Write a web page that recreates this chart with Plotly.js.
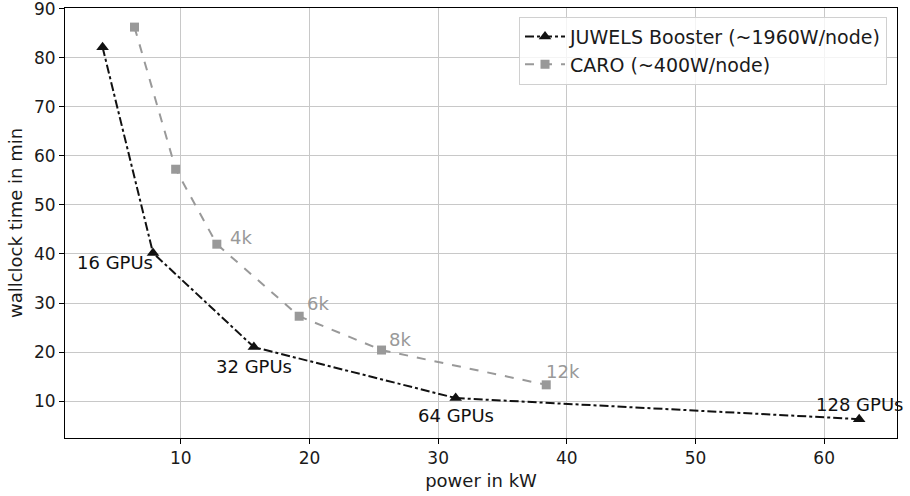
<!DOCTYPE html>
<html>
<head>
<meta charset="utf-8">
<script src="https://cdn.plot.ly/plotly-3.0.1.min.js"></script>
<style>html,body{margin:0;padding:0;background:#fff;}#chart{width:910px;height:496px;}</style>
</head>
<body>
<div id="chart"></div>
<script>
// JUWELS Booster (~1960W/node)
const juwelsPower = [3.92, 7.84, 15.68, 31.36, 62.72];
const juwelsTime = [82.2, 40.2, 21.0, 10.6, 6.3];
const juwelsLabels = ["", "16 GPUs", "32 GPUs", "64 GPUs", "128 GPUs"];
const juwelsShiftX = [0, -38, 0, 0, 0];
const juwelsShiftY = [0, -9, -19, -17, 15];

// CARO (~400W/node)
const caroPower = [6.4, 9.6, 12.8, 19.2, 25.6, 38.4];
const caroTime = [86.3, 57.3, 42.0, 27.3, 20.4, 13.3];
const caroLabels = ["", "", "4k", "6k", "8k", "12k"];
const caroShiftX = [0, 0, 24, 19, 18, 17];
const caroShiftY = [0, 0, 7, 13, 11, 13];

const xTicks = [10, 20, 30, 40, 50, 60];
const yTicks = [10, 20, 30, 40, 50, 60, 70, 80, 90];

const font = {family: "DejaVu Sans, sans-serif", size: 18, color: "#1a1a1a"};
const tickFont = {family: "DejaVu Sans, sans-serif", size: 17, color: "#1a1a1a"};

const traces = [
  {x: juwelsPower, y: juwelsTime, mode: "lines+markers", name: "JUWELS Booster (~1960W/node)",
   line: {color: "#111111", width: 2, dash: "dashdot"},
   marker: {symbol: "triangle-up", size: 11, color: "#111111"}},
  {x: caroPower, y: caroTime, mode: "lines+markers", name: "CARO (~400W/node)",
   line: {color: "#999999", width: 2, dash: "dash"},
   marker: {symbol: "square", size: 9, color: "#999999"}}
];

const annotations = [];
juwelsLabels.forEach((t, i) => { if (t) annotations.push({x: juwelsPower[i], y: juwelsTime[i], text: t, showarrow: false,
  xshift: juwelsShiftX[i], yshift: juwelsShiftY[i], font: {family: font.family, size: 18, color: "#111111"}}); });
caroLabels.forEach((t, i) => { if (t) annotations.push({x: caroPower[i], y: caroTime[i], text: t, showarrow: false,
  xshift: caroShiftX[i], yshift: caroShiftY[i], font: {family: font.family, size: 18, color: "#999999"}}); });

const axisCommon = {showgrid: true, gridcolor: "#c8c8c8", gridwidth: 1, zeroline: false,
  showline: true, linecolor: "#000", linewidth: 1, mirror: true,
  ticks: "outside", ticklen: 5, tickcolor: "#000", tickfont: tickFont, ticklabeloverflow: "allow"};

const layout = {
  width: 910, height: 496,
  margin: {l: 65, r: 13, t: 8, b: 58},
  paper_bgcolor: "#fff", plot_bgcolor: "#fff",
  font: font,
  xaxis: Object.assign({}, axisCommon, {range: [1.0, 65.66], tickvals: xTicks,
    title: {text: "power in kW", font: font, standoff: 6}}),
  yaxis: Object.assign({}, axisCommon, {range: [2.45, 90.2], tickvals: yTicks,
    title: {text: "wallclock time in min", font: font, standoff: 6}}),
  legend: {x: 0.988, xanchor: "right", y: 0.98, yanchor: "top",
    bgcolor: "rgba(255,255,255,0.8)", bordercolor: "#d0d0d0", borderwidth: 1,
    itemwidth: 40,
    font: {family: font.family, size: 19, color: "#1a1a1a"}, tracegroupgap: 0},
  annotations: annotations,
  showlegend: true
};

Plotly.newPlot("chart", traces, layout, {displayModeBar: false, staticPlot: true});
</script>
</body>
</html>
